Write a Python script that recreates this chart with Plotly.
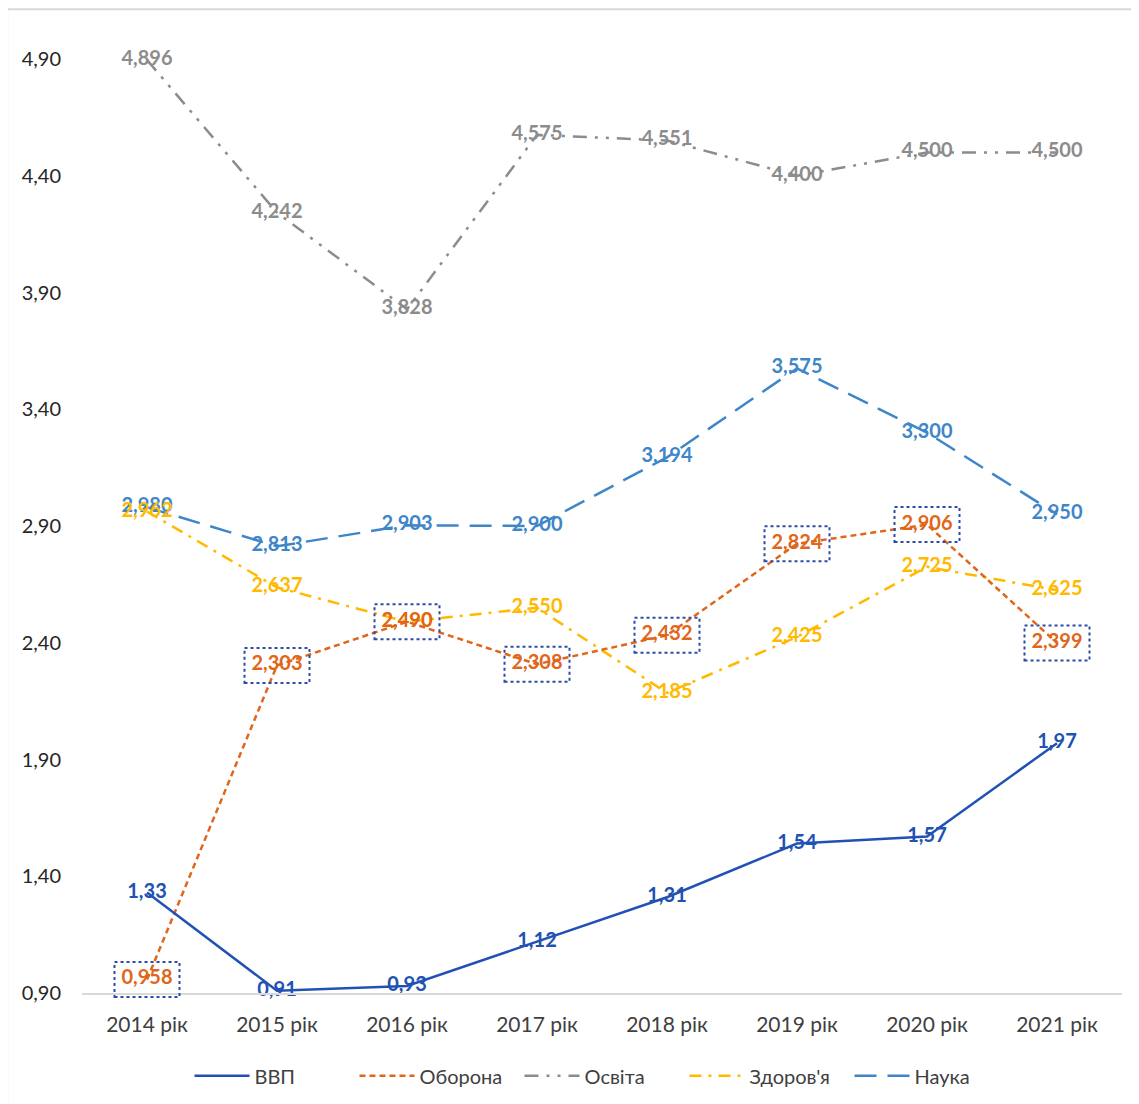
import plotly.graph_objects as go

# categories and series values
years = ['2014 рік', '2015 рік', '2016 рік', '2017 рік', '2018 рік', '2019 рік', '2020 рік', '2021 рік']
vvp = [1.33, 0.91, 0.93, 1.12, 1.31, 1.54, 1.57, 1.97]
oborona = [0.958, 2.303, 2.490, 2.308, 2.432, 2.824, 2.906, 2.399]
osvita = [4.896, 4.242, 3.828, 4.575, 4.551, 4.400, 4.500, 4.500]
zdorovia = [2.962, 2.637, 2.490, 2.550, 2.185, 2.425, 2.725, 2.625]
nauka = [2.980, 2.813, 2.903, 2.900, 3.194, 3.575, 3.300, 2.950]
y_ticks = [0.90, 1.40, 1.90, 2.40, 2.90, 3.40, 3.90, 4.40, 4.90]

FONT = 'Lato, Open Sans, sans-serif'
Y_MIN, Y_MAX = 0.9, 5.067

series = [
    # name, values, colour, dash, label format
    ('ВВП', vvp, '#2152B3', 'solid', '%{y:.2f}'),
    ('Оборона', oborona, '#E0661A', '6px,4px', '%{y:.3f}'),
    ('Освіта', osvita, '#8C8C8C', '14px,8px,3px,8px,3px,8px', '%{y:.3f}'),
    ("Здоров'я", zdorovia, '#FFBA00', '12px,7px,3px,7px', '%{y:.3f}'),
    ('Наука', nauka, '#3E86C8', '22px,11px', '%{y:.3f}'),
]

fig = go.Figure()
# draw background series first so the order of overlap resembles the original
order = [2, 4, 3, 1, 0]
for k in order:
    name, vals, col, dash, fmt = series[k]
    fig.add_trace(go.Scatter(
        x=years, y=vals, name=name, mode='lines+text',
        line=dict(color=col, width=2.5, dash=dash),
        texttemplate=fmt, textposition='middle center',
        textfont=dict(family=FONT, size=20, color=col, weight=700),
        cliponaxis=False,
        legendrank=k,
    ))

# dotted boxes around the defence labels (y in paper units so they are not clipped)
for i, v in enumerate(oborona):
    yc = (v - Y_MIN) / (Y_MAX - Y_MIN)
    fig.add_shape(type='rect', xref='x', yref='paper',
                  x0=i - 0.25, x1=i + 0.25, y0=yc - 0.018, y1=yc + 0.018,
                  line=dict(color='#2B4BA8', width=2, dash='dot'))

# light frame of the chart area (top and left edges)
fig.add_shape(type='line', xref='paper', yref='paper', x0=-0.072, x1=1.03, y0=1.011, y1=1.011,
              line=dict(color='#D9D9D9', width=2))
fig.add_shape(type='line', xref='paper', yref='paper', x0=-0.072, x1=-0.072, y0=-0.13, y1=1.011,
              line=dict(color='#D9D9D9', width=2))

# page body adds an 8px offset, margins compensate for it
fig.update_layout(
    width=1139, height=1104,
    margin=dict(l=74, r=25, t=12, b=119),
    paper_bgcolor='white', plot_bgcolor='white',
    separators=', ',
    font=dict(family=FONT, color='#404040'),
    showlegend=True,
    legend=dict(orientation='h', x=0.5, xanchor='center', y=-0.085, yanchor='middle',
                font=dict(family=FONT, size=20, color='#404040'),
                traceorder='normal', itemwidth=55, entrywidth=95),
    xaxis=dict(range=[-0.5, 7.5], showgrid=False, showline=True, linecolor='#D9D9D9', linewidth=2,
               ticks='', ticklabelstandoff=12,
               tickfont=dict(family=FONT, size=21, color='#404040'), zeroline=False),
    yaxis=dict(range=[Y_MIN, Y_MAX], tickvals=y_ticks, tickformat='.2f', showgrid=False,
               showline=False, zeroline=False, ticks='', ticklabelstandoff=20,
               tickfont=dict(family=FONT, size=20, color='#262626')),
)

fig.write_html('out.html')
